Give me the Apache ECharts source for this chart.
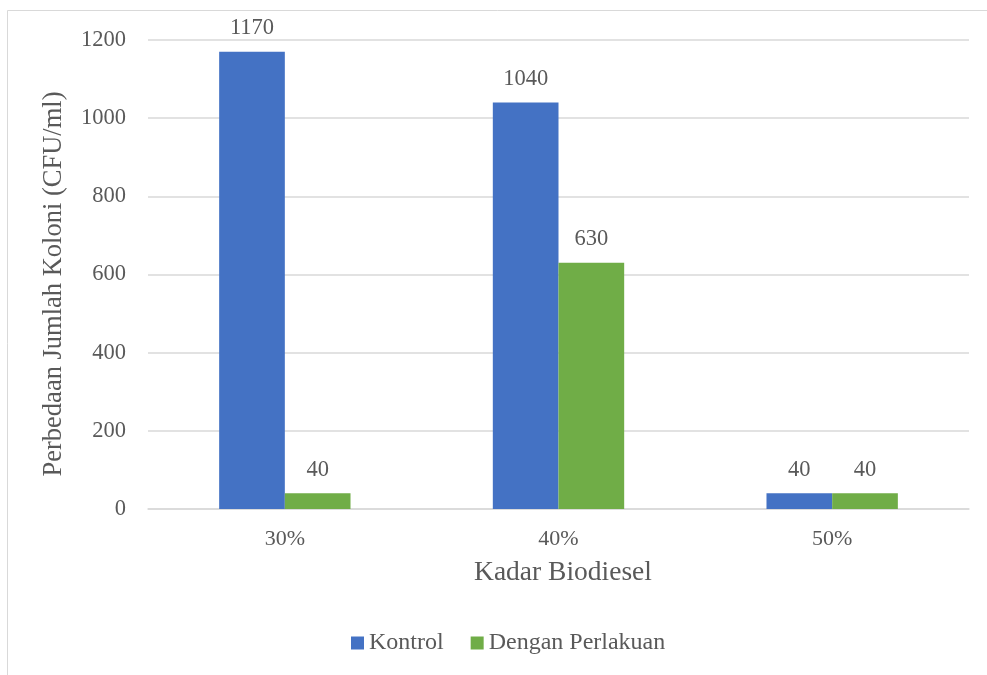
<!DOCTYPE html>
<html>
<head>
<meta charset="utf-8">
<script src="https://cdn.jsdelivr.net/npm/echarts@6/dist/echarts.min.js"></script>
<style>
  html, body { margin: 0; padding: 0; background: #fff; }
  #chart { width: 987px; height: 675px; }
</style>
</head>
<body>
<div id="chart"></div>
<script>
// Colony counts per biodiesel level
const categories = ['30%', '40%', '50%'];
const kontrol = [1170, 1040, 40];
const denganPerlakuan = [40, 630, 40];
const yTicks = [0, 200, 400, 600, 800, 1000, 1200];

const FONT = '"Liberation Serif", "Times New Roman", serif';
const TEXT = '#595959';
const GRID = '#d9d9d9';

const chart = echarts.init(document.getElementById('chart'), null, { renderer: 'canvas' });

const labelStyle = {
  show: true,
  position: 'top',
  distance: 12,
  color: TEXT,
  fontFamily: FONT,
  fontSize: 22.5
};

chart.setOption({
  backgroundColor: '#ffffff',
  animation: false,
  graphic: [{
    type: 'rect',
    shape: { x: 7.5, y: 10.5, width: 1000, height: 700 },
    style: { fill: 'none', stroke: GRID, lineWidth: 1 },
    silent: true,
    z: -1
  }],
  grid: { left: 148, right: 18, top: 40, bottom: 166 },
  legend: {
    left: 351,
    top: 631,
    padding: 0,
    itemWidth: 13,
    itemHeight: 13,
    itemGap: 27,
    icon: 'rect',
    textStyle: { color: TEXT, fontFamily: FONT, fontSize: 24 },
    data: ['Kontrol', 'Dengan Perlakuan']
  },
  xAxis: {
    type: 'category',
    data: categories,
    name: 'Kadar Biodiesel',
    nameLocation: 'middle',
    nameGap: 50,
    nameTextStyle: { color: TEXT, fontFamily: FONT, fontSize: 27.5, padding: [0, 0, 0, 9] },
    axisLine: { lineStyle: { color: GRID, width: 1.5 } },
    axisTick: { show: false },
    axisLabel: { color: TEXT, fontFamily: FONT, fontSize: 22, margin: 19 }
  },
  yAxis: {
    type: 'value',
    min: yTicks[0],
    max: yTicks[yTicks.length - 1],
    interval: yTicks[1] - yTicks[0],
    name: 'Perbedaan Jumlah Koloni (CFU/ml)',
    nameLocation: 'middle',
    nameGap: 80,
    nameTextStyle: { color: TEXT, fontFamily: FONT, fontSize: 26.5, padding: [0, 19, 0, 0] },
    axisLine: { show: false },
    axisTick: { show: false },
    splitLine: { lineStyle: { color: GRID, width: 1.5 } },
    axisLabel: {
      color: TEXT, fontFamily: FONT, fontSize: 22.5, margin: 22,
      formatter: (v) => String(v)
    }
  },
  series: [
    {
      name: 'Kontrol',
      type: 'bar',
      data: kontrol,
      itemStyle: { color: '#4472C4' },
      barGap: '0%',
      barCategoryGap: '52%',
      label: labelStyle
    },
    {
      name: 'Dengan Perlakuan',
      type: 'bar',
      data: denganPerlakuan,
      itemStyle: { color: '#70AD47' },
      barGap: '0%',
      barCategoryGap: '52%',
      label: labelStyle
    }
  ]
});
</script>
</body>
</html>
